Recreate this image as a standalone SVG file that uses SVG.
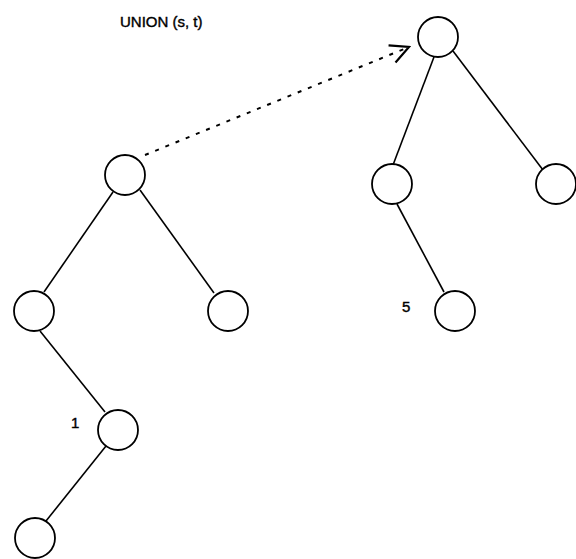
<svg xmlns="http://www.w3.org/2000/svg" width="576" height="559" viewBox="0 0 576 559">
<defs>
<style>
.node{fill:#fff;stroke:#000;stroke-width:1.8}
.edge{stroke:#000;stroke-width:1.6;fill:none}
.dot{stroke:#000;stroke-width:2;fill:none;stroke-dasharray:4 7}
.lbl{font-family:"Liberation Sans",Arial,sans-serif;font-size:15px;fill:#000;stroke:#000;stroke-width:0.4}
</style>
<marker id="arr" viewBox="0 0 12 12" refX="11" refY="6" markerWidth="22" markerHeight="22" markerUnits="userSpaceOnUse" orient="auto">
<path d="M1,1 L11,6 L1,11" fill="none" stroke="#000" stroke-width="1.2"/>
</marker>
</defs>
<text class="lbl" x="120" y="27">UNION (s, t)</text>
<g id="connectors">
<line class="edge" x1="434" y1="57" x2="393" y2="165"/>
<line class="edge" x1="453" y1="51" x2="543" y2="170"/>
<line class="edge" x1="113" y1="192" x2="44" y2="292"/>
<line class="edge" x1="140" y1="190" x2="214" y2="293"/>
<line class="edge" x1="397" y1="204" x2="444" y2="292"/>
<line class="edge" x1="40" y1="331" x2="105" y2="412"/>
<line class="edge" x1="106" y1="446" x2="46" y2="521"/>
<line class="dot" x1="145" y1="155" x2="409" y2="47" marker-end="url(#arr)"/>
</g>
<g id="n_root"><circle class="node" cx="438" cy="37" r="20"/></g>
<g id="n_s"><circle class="node" cx="125" cy="175" r="20"/></g>
<g id="n_rl"><circle class="node" cx="392" cy="184" r="20"/></g>
<g id="n_rr"><circle class="node" cx="556" cy="184" r="20"/></g>
<g id="n_ll"><circle class="node" cx="34" cy="311" r="20"/></g>
<g id="n_lr"><circle class="node" cx="228" cy="311" r="20"/></g>
<g id="n_5"><circle class="node" cx="455" cy="311" r="20"/><text class="lbl" x="402" y="312">5</text></g>
<g id="n_1"><circle class="node" cx="118" cy="430" r="20"/><text class="lbl" x="71" y="428">1</text></g>
<g id="n_leaf"><circle class="node" cx="35" cy="538" r="20"/></g>
</svg>
